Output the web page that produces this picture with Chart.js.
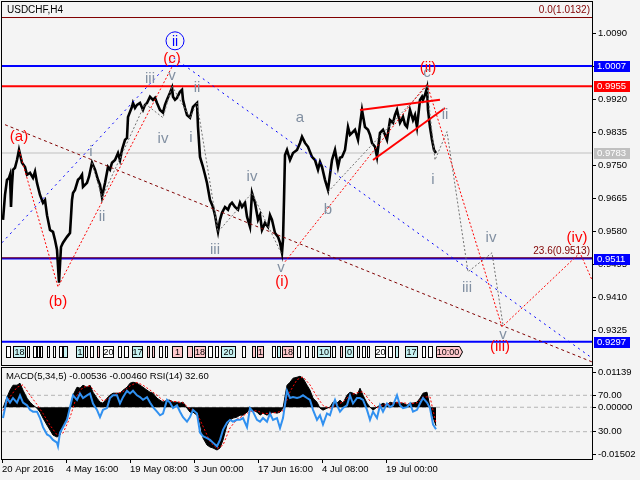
<!DOCTYPE html>
<html>
<head>
<meta charset="utf-8">
<script src="https://cdn.jsdelivr.net/npm/chart.js@4.4.1/dist/chart.umd.min.js"></script>
<style>
html, body { margin: 0; padding: 0; background: #f4f4f4; }
#wrap { position: relative; width: 640px; height: 480px; overflow: hidden; background: #f4f4f4; }
canvas { position: absolute; left: 0; }
#main { top: 0; }
#ind { top: 366px; }
</style>
</head>
<body>
<div id="wrap">
  <canvas id="main" width="640" height="366" style="width:640px;height:366px"></canvas>
  <canvas id="ind" width="640" height="114" style="width:640px;height:114px"></canvas>
</div>
<script>
// USDCHF H4, one bar index per H4 candle
const priceBars = [
  1, 3, 5, 7, 8, 9, 10, 11, 13, 15,
  17, 20, 23, 25, 28, 31, 33, 35, 38, 41,
  43, 45, 48, 51, 53, 55, 57, 59, 61, 65,
  68, 70, 71, 73, 76, 78, 80, 81, 85, 87,
  90, 93, 96, 98, 100, 103, 106, 108, 110, 113,
  116, 118, 120, 123, 125, 126, 128, 130, 131, 133,
  135, 138, 141, 143, 145, 148, 151, 153, 155, 158,
  161, 163, 165, 168, 170, 171, 173, 175, 178, 180,
  181, 183, 185, 188, 191, 195, 196, 198, 201, 203,
  205, 208, 211, 213, 215, 216, 218, 220, 223, 226,
  228, 230, 233, 236, 238, 240, 243, 245, 248, 250,
  253, 256, 258, 260, 263, 266, 268, 270, 273, 276,
  278, 280, 281, 282, 283, 285, 288, 291, 295, 298,
  300, 303, 306, 308, 310, 313, 316, 318, 320, 323,
  326, 328, 330, 333, 336, 338, 340, 343, 346, 348,
  350, 353, 356, 358, 360, 363, 366, 368, 370, 373,
  375, 378, 381, 383, 385, 388, 391, 393, 395, 398,
  401, 403, 405, 408, 411, 413, 415, 418, 420, 421,
  423, 425, 426, 428, 430, 432, 434
];
const priceClose = [
  0.9611, 0.9675, 0.9714, 0.9719, 0.9727, 0.9644, 0.9701, 0.9740, 0.9745, 0.9765,
  0.9791, 0.9758, 0.9747, 0.9727, 0.9732, 0.9719, 0.9735, 0.9706, 0.9675, 0.9655,
  0.9662, 0.9623, 0.9585, 0.9580, 0.9559, 0.9534, 0.9449, 0.9541, 0.9552, 0.9567,
  0.9577, 0.9662, 0.9680, 0.9688, 0.9714, 0.9719, 0.9727, 0.9696, 0.9706, 0.9722,
  0.9758, 0.9740, 0.9714, 0.9701, 0.9670, 0.9706, 0.9747, 0.9740, 0.9758, 0.9765,
  0.9783, 0.9765, 0.9791, 0.9817, 0.9822, 0.9876, 0.9889, 0.9902, 0.9912, 0.9899,
  0.9907, 0.9912, 0.9894, 0.9907, 0.9912, 0.9928, 0.9920, 0.9925, 0.9912, 0.9894,
  0.9887, 0.9907, 0.9920, 0.9938, 0.9951, 0.9928, 0.9920, 0.9925, 0.9941, 0.9946,
  0.9920, 0.9899, 0.9881, 0.9874, 0.9902, 0.9912, 0.9850, 0.9773, 0.9747, 0.9727,
  0.9706, 0.9662, 0.9644, 0.9623, 0.9593, 0.9580, 0.9611, 0.9629, 0.9644, 0.9637,
  0.9650, 0.9655, 0.9644, 0.9637, 0.9655, 0.9644, 0.9655, 0.9619, 0.9593, 0.9680,
  0.9655, 0.9611, 0.9623, 0.9585, 0.9603, 0.9593, 0.9623, 0.9611, 0.9577, 0.9567,
  0.9552, 0.9526, 0.9559, 0.9662, 0.9778, 0.9791, 0.9765, 0.9783, 0.9791, 0.9809,
  0.9825, 0.9809, 0.9799, 0.9786, 0.9773, 0.9765, 0.9740, 0.9760, 0.9747, 0.9714,
  0.9688, 0.9727, 0.9765, 0.9791, 0.9747, 0.9771, 0.9773, 0.9791, 0.9850, 0.9830,
  0.9835, 0.9843, 0.9817, 0.9856, 0.9894, 0.9850, 0.9843, 0.9830, 0.9809, 0.9799,
  0.9773, 0.9835, 0.9843, 0.9830, 0.9817, 0.9868, 0.9861, 0.9881, 0.9894, 0.9861,
  0.9876, 0.9856, 0.9850, 0.9894, 0.9868, 0.9881, 0.9850, 0.9920, 0.9928, 0.9920,
  0.9933, 0.9951, 0.9894, 0.9850, 0.9817, 0.9791, 0.9783
];

const macdBars = [
  1, 5, 8, 11, 15, 18, 21, 25, 28, 31,
  35, 38, 41, 45, 48, 51, 55, 58, 61, 65,
  68, 71, 75, 78, 81, 85, 88, 91, 95, 98,
  101, 105, 108, 111, 115, 118, 121, 125, 128, 131,
  135, 138, 141, 145, 148, 151, 155, 158, 161, 165,
  168, 171, 175, 178, 181, 185, 188, 191, 195, 198,
  201, 205, 208, 211, 215, 218, 221, 225, 228, 231,
  235, 238, 241, 245, 248, 251, 255, 258, 261, 265,
  268, 271, 275, 278, 281, 285, 288, 291, 295, 298,
  301, 305, 308, 311, 315, 318, 321, 325, 328, 331,
  335, 338, 341, 345, 348, 351, 355, 358, 361, 365,
  368, 371, 375, 378, 381, 385, 388, 391, 395, 398,
  401, 405, 408, 411, 415, 418, 421, 425, 428, 431,
  434
];
const macdMain = [
  -0.00026, 0.00292, 0.00495, 0.00639, 0.00639, 0.00697, 0.00495, 0.00263, 0.00148, 0.00061,
  -0.00026, -0.00142, -0.00315, -0.00518, -0.00662, -0.00807, -0.00865, -0.00807, -0.00518, -0.00286,
  -0.00026, 0.00350, 0.00581, 0.00553, 0.00639, 0.00581, 0.00639, 0.00437, 0.00263, 0.00148,
  0.00119, 0.00263, 0.00350, 0.00408, 0.00408, 0.00408, 0.00495, 0.00581, 0.00697, 0.00726,
  0.00697, 0.00639, 0.00581, 0.00495, 0.00437, 0.00408, 0.00263, 0.00205, 0.00148, 0.00205,
  0.00205, 0.00148, 0.00148, 0.00119, 0.00148, -0.00026, -0.00142, -0.00142, -0.00229, -0.00460,
  -0.00894, -0.01096, -0.01154, -0.01183, -0.01241, -0.01183, -0.00952, -0.00518, -0.00373, -0.00315,
  -0.00286, -0.00229, -0.00229, -0.00142, -0.00026, -0.00084, -0.00142, -0.00229, -0.00171, -0.00229,
  -0.00171, -0.00142, -0.00171, -0.00142, -0.00026, 0.00639, 0.00726, 0.00842, 0.00871, 0.00900,
  0.00842, 0.00639, 0.00495, 0.00263, 0.00148, -0.00026, -0.00084, -0.00026, 0.00003, 0.00148,
  0.00119, 0.00205, 0.00119, 0.00350, 0.00437, 0.00408, 0.00350, 0.00553, 0.00350, 0.00119,
  0.00003, -0.00084, 0.00003, 0.00061, 0.00119, 0.00061, 0.00148, 0.00119, 0.00148, 0.00119,
  0.00119, 0.00061, 0.00119, 0.00119, 0.00148, 0.00263, 0.00408, 0.00437, 0.00003, -0.00286,
  -0.00536
];

const signalBars = [
  1, 8, 15, 21, 28, 35, 41, 48, 55, 61,
  68, 75, 81, 88, 95, 101, 108, 115, 121, 128,
  135, 141, 148, 155, 161, 168, 175, 181, 188, 195,
  201, 208, 215, 221, 228, 235, 241, 248, 255, 261,
  268, 275, 281, 288, 295, 301, 308, 315, 321, 328,
  335, 341, 348, 355, 361, 368, 375, 381, 388, 395,
  401, 408, 415, 421, 428, 434
];
const macdSignal = [
  -0.0010, 0.0030, 0.0058, 0.0065, 0.0035, 0.0008, -0.0018, -0.0052, -0.0080, -0.0075,
  -0.0030, 0.0035, 0.0058, 0.0062, 0.0040, 0.0018, 0.0028, 0.0040, 0.0045, 0.0062,
  0.0072, 0.0064, 0.0050, 0.0035, 0.0020, 0.0018, 0.0016, 0.0013, -0.0005, -0.0018,
  -0.0055, -0.0100, -0.0120, -0.0110, -0.0060, -0.0035, -0.0025, -0.0012, -0.0010, -0.0018,
  -0.0018, -0.0015, -0.0010, 0.0045, 0.0080, 0.0088, 0.0065, 0.0030, 0.0005, -0.0003,
  0.0008, 0.0015, 0.0035, 0.0042, 0.0045, 0.0018, -0.0002, 0.0006, 0.0010, 0.0013,
  0.0013, 0.0010, 0.0013, 0.0030, 0.0030, -0.0046
];

const rsiBars = [
  1, 5, 8, 11, 15, 18, 21, 25, 28, 31,
  35, 38, 41, 45, 48, 51, 55, 56, 58, 61,
  65, 68, 71, 75, 78, 81, 85, 88, 91, 95,
  98, 101, 105, 108, 111, 115, 118, 121, 125, 128,
  131, 135, 138, 141, 145, 148, 151, 155, 158, 161,
  165, 168, 171, 175, 178, 181, 185, 188, 191, 195,
  198, 201, 205, 208, 211, 215, 218, 221, 225, 228,
  231, 235, 238, 241, 245, 248, 251, 255, 258, 261,
  265, 268, 271, 275, 278, 281, 285, 288, 291, 295,
  298, 301, 305, 308, 311, 315, 318, 321, 325, 328,
  331, 333, 335, 338, 341, 345, 348, 351, 355, 358,
  361, 365, 368, 371, 375, 378, 381, 385, 388, 391,
  395, 398, 401, 405, 408, 411, 415, 418, 421, 425,
  428, 431, 434
];
const rsiValues = [
  45, 67, 62, 67, 62, 70, 62, 59, 54, 52,
  52, 45, 35, 27, 25, 21, 18, 14, 29, 35,
  43, 57, 70, 65, 72, 67, 70, 72, 61, 54,
  46, 54, 56, 67, 70, 70, 61, 68, 75, 72,
  75, 70, 68, 65, 68, 62, 57, 52, 48, 50,
  65, 62, 56, 59, 52, 46, 41, 46, 54, 50,
  29, 25, 23, 21, 18, 14, 21, 32, 40, 43,
  41, 43, 43, 45, 35, 56, 52, 43, 41, 45,
  41, 50, 43, 45, 34, 45, 75, 67, 68, 67,
  68, 70, 67, 65, 54, 43, 48, 38, 50, 48,
  59, 65, 59, 52, 56, 59, 70, 61, 67, 67,
  65, 54, 43, 52, 45, 59, 52, 61, 57, 59,
  70, 59, 56, 57, 61, 52, 54, 61, 67, 62,
  56, 38, 32.6
];

// axis ticks
const priceTicks = [1.0090, 1.0005, 0.9920, 0.9835, 0.9750, 0.9665, 0.9580, 0.9495, 0.9410, 0.9325];
const dateTickBars = [0, 64, 128, 192, 256, 320, 384];
const dateLabels = ['20 Apr 2016', '4 May 16:00', '19 May 08:00', '3 Jun 00:00', '17 Jun 16:00', '4 Jul 08:00', '19 Jul 00:00'];

// horizontal levels
const blueLevels = [1.0007, 0.9511, 0.9297];
const redLevels = [0.9955];
const lastPrice = 0.9783;
const fibLevels = [[1.0132, '0.0(1.0132)'], [0.9513, '23.6(0.9513)']];

// analysis lines: [bar, price] vertices
const blueChannel = [[0, 0.9552], [172, 1.0028], [590, 0.9255]];
const maroonTrend = [[3, 0.9856], [590, 0.9245]];
const redWaves = [
  [[17, 0.9791], [56, 0.9438], [171, 1.0010]],
  [[283, 0.9503], [425, 0.9961], [500, 0.9335], [578, 0.9526], [590, 0.9456]]
];
const greyWaves = [
  [[90, 0.9758], [100, 0.9668], [143, 0.9910], [161, 0.9874], [170, 0.9956]],
  [[170, 0.9956], [188, 0.9874], [195, 0.9912], [216, 0.9580], [250, 0.9680], [280, 0.9521]],
  [[326, 0.9683], [425, 0.9956]],
  [[425, 0.9956], [433, 0.9765], [445, 0.9838], [466, 0.9477], [490, 0.9526], [501, 0.9340]]
];
const wedgeLines = [
  [[358, 0.9894], [438, 0.9920]],
  [[371, 0.9765], [443, 0.9899]]
];

// wave labels: [bar, price, text, kind]
const waveLabels = [
  [17, 0.9825, '(a)', 'red'], [56, 0.9400, '(b)', 'red'], [170, 1.0026, '(c)', 'red'],
  [280, 0.9451, '(i)', 'red'], [426, 1.0002, '(ii)', 'red'], [498, 0.9284, '(iii)', 'red'],
  [575, 0.9565, '(iv)', 'red'],
  [89, 0.9786, 'i', 'grey'], [100, 0.9619, 'ii', 'grey'], [148, 0.9974, 'iii', 'grey'],
  [161, 0.9819, 'iv', 'grey'], [170, 0.9982, 'v', 'grey'],
  [189, 0.9822, 'i', 'grey'], [195, 0.9951, 'ii', 'grey'], [213, 0.9534, 'iii', 'grey'],
  [250, 0.9722, 'iv', 'grey'], [279, 0.9487, 'v', 'grey'],
  [298, 0.9874, 'a', 'grey'], [326, 0.9637, 'b', 'grey'], [425, 0.9990, 'c', 'grey'],
  [431, 0.9714, 'i', 'grey'], [443, 0.9881, 'ii', 'grey'], [465, 0.9436, 'iii', 'grey'],
  [489, 0.9565, 'iv', 'grey'], [501, 0.9315, 'v', 'grey']
];
const circledLabel = [173, 1.0072, 'ii'];

// session strip along the bottom of the price panel: [fromBar, toBar, text, fill]
const sessionTags = [
  [4, 8, '', '#fff'], [11, 23, '18', '#c6f2f2'], [25, 27, '', '#fff'], [31, 34, '', '#fff'],
  [35, 37, '', '#fff'], [38, 40, '', '#fff'], [45, 47, '', '#fff'], [51, 53, '', '#fff'],
  [57, 60, '', '#fff'], [61, 65, '', '#c6f2f2'], [74, 81, '1', '#c6f2f2'], [83, 85, '', '#fff'],
  [88, 91, '', '#fff'], [95, 97, '', '#ffc8cc'], [101, 111, '20', '#fff'], [116, 119, '', '#fff'],
  [122, 126, '', '#fff'], [130, 140, '17', '#c6f2f2'], [145, 147, '', '#ffc8cc'], [150, 152, '', '#ffc8cc'],
  [157, 160, '', '#fff'], [163, 165, '', '#fff'], [170, 180, '1', '#ffc8cc'], [185, 190, '', '#ffc8cc'],
  [192, 203, '18', '#ffc8cc'], [206, 210, '', '#fff'], [213, 216, '', '#fff'], [219, 233, '20', '#c6f2f2'],
  [240, 243, '', '#fff'], [250, 253, '', '#ffc8cc'], [255, 261, '1', '#ffc8cc'], [270, 273, '', '#fff'],
  [275, 278, '', '#c6f2f2'], [280, 291, '18', '#ffc8cc'], [295, 298, '', '#fff'], [303, 306, '', '#fff'],
  [310, 312, '', '#fff'], [315, 328, '10', '#c6f2f2'], [330, 333, '', '#fff'], [338, 340, '', '#ffc8cc'],
  [343, 351, '0', '#c6f2f2'], [355, 357, '', '#fff'], [360, 363, '', '#fff'], [365, 367, '', '#fff'],
  [373, 383, '20', '#fff'], [386, 390, '', '#fff'], [393, 396, '', '#c6f2f2'], [403, 415, '17', '#c6f2f2'],
  [420, 423, '', '#fff'], [426, 430, '', '#fff']
];
const lastTag = [434, 460, '10:00'];

const macdMin = -0.01502, macdMax = 0.01139;
const macdHeader = 'MACD(5,34,5) -0.00536 -0.00460 RSI(14) 32.60';

const FONT = '"Liberation Sans", Arial, sans-serif';
const pts = (xs, ys) => xs.map((x, k) => ({ x: x, y: ys[k] }));
const seg = arr => arr.map(p => ({ x: p[0], y: p[1] }));
const hline = (p, color, width, dash) => ({
  data: [{ x: 0, y: p }, { x: 590, y: p }], borderColor: color, borderWidth: width,
  borderDash: dash || [], order: 6
});

const mainSets = [];
fibLevels.forEach(f => mainSets.push(hline(f[0], '#800000', 1)));
mainSets.push(hline(lastPrice, '#c0c0c0', 1));
blueLevels.forEach(p => mainSets.push(hline(p, '#0000ff', 2)));
redLevels.forEach(p => mainSets.push(hline(p, '#ff0000', 2)));
mainSets.push({ data: pts(priceBars, priceClose), borderColor: '#000', borderWidth: 2.6, order: 4 });
mainSets.push({ data: seg(blueChannel), borderColor: '#0000ff', borderWidth: 1, borderDash: [2, 4], order: 3 });
mainSets.push({ data: seg(maroonTrend), borderColor: '#800000', borderWidth: 1, borderDash: [3, 3], order: 3 });
greyWaves.forEach(w => mainSets.push({ data: seg(w), borderColor: '#707070', borderWidth: 1, borderDash: [2, 2], order: 3 }));
redWaves.forEach(w => mainSets.push({ data: seg(w), borderColor: '#ff0000', borderWidth: 1, borderDash: [2, 2], order: 2 }));
wedgeLines.forEach(w => mainSets.push({ data: seg(w), borderColor: '#ff0000', borderWidth: 2, order: 1 }));

function noPad(s) { s.paddingTop = 0; s.paddingBottom = 0; s.paddingLeft = 0; s.paddingRight = 0; }

const frame = {
  id: 'frame',
  afterDraw(chart) {
    const a = chart.chartArea, ctx = chart.ctx;
    ctx.save();
    ctx.strokeStyle = '#000';
    ctx.lineWidth = 1;
    ctx.strokeRect(a.left - 0.5, a.top - 0.5, a.right - a.left + 1, a.bottom - a.top + 1);
    ctx.restore();
  }
};

const mainOverlay = {
  id: 'mainOverlay',
  afterDatasetsDraw(chart) {
    const { ctx, chartArea: a, scales: { x, y } } = chart;
    ctx.save();
    ctx.textAlign = 'center';
    ctx.textBaseline = 'middle';
    waveLabels.forEach(([b, p, t, kind]) => {
      ctx.font = '15px ' + FONT;
      ctx.fillStyle = kind === 'red' ? '#ff0000' : '#8290a2';
      ctx.fillText(t, x.getPixelForValue(b), y.getPixelForValue(p));
    });
    const cx = x.getPixelForValue(circledLabel[0]), cy = y.getPixelForValue(circledLabel[1]);
    ctx.strokeStyle = '#0000ff';
    ctx.lineWidth = 1;
    ctx.beginPath();
    ctx.arc(cx, cy, 9, 0, Math.PI * 2);
    ctx.stroke();
    ctx.fillStyle = '#0000ff';
    ctx.font = '14px ' + FONT;
    ctx.fillText(circledLabel[2], cx, cy + 1);

    ctx.font = '10px ' + FONT;
    ctx.fillStyle = '#800000';
    ctx.textAlign = 'right';
    ctx.textBaseline = 'bottom';
    fibLevels.forEach(f => ctx.fillText(f[1], a.right - 2, y.getPixelForValue(f[0]) - 2));

    ctx.textAlign = 'left';
    ctx.textBaseline = 'middle';
    ctx.fillStyle = '#000';
    ctx.font = '10px ' + FONT;
    ctx.fillText('USDCHF,H4', a.left + 5, a.top + 8);

    // session strip
    const top = a.bottom - 19, h = 11;
    ctx.font = '9px ' + FONT;
    ctx.textAlign = 'center';
    sessionTags.forEach(([b0, b1, t, fill]) => {
      const x0 = Math.round(x.getPixelForValue(b0)) + 0.5, x1 = Math.round(x.getPixelForValue(b1)) + 0.5;
      ctx.fillStyle = fill;
      ctx.fillRect(x0, top, x1 - x0, h);
      ctx.strokeStyle = '#000';
      ctx.strokeRect(x0, top + 0.5, x1 - x0, h);
      if (t) { ctx.fillStyle = '#000'; ctx.fillText(t, (x0 + x1) / 2, top + h / 2 + 1); }
    });
    const lx0 = Math.round(x.getPixelForValue(lastTag[0])) + 0.5, lx1 = Math.round(x.getPixelForValue(lastTag[1])) + 0.5;
    ctx.beginPath();
    ctx.moveTo(lx0, top + 0.5);
    ctx.lineTo(lx1 - 3, top + 0.5);
    ctx.lineTo(lx1, top + h / 2 + 0.5);
    ctx.lineTo(lx1 - 3, top + h + 0.5);
    ctx.lineTo(lx0, top + h + 0.5);
    ctx.closePath();
    ctx.fillStyle = '#ffc8cc';
    ctx.fill();
    ctx.strokeStyle = '#000';
    ctx.stroke();
    ctx.fillStyle = '#000';
    ctx.fillText(lastTag[2], (lx0 + lx1 - 3) / 2, top + h / 2 + 1);
    ctx.restore();
  },
  afterDraw(chart) {
    const { ctx, chartArea: a, scales: { y } } = chart;
    const tags = blueLevels.map(p => [p, '#0000ff']).concat(redLevels.map(p => [p, '#ff0000']), [[lastPrice, '#c0c0c0']]);
    ctx.save();
    ctx.font = '9.5px ' + FONT;
    ctx.textAlign = 'left';
    ctx.textBaseline = 'middle';
    tags.forEach(([p, c]) => {
      const py = Math.round(y.getPixelForValue(p));
      ctx.fillStyle = c;
      ctx.fillRect(a.right + 2, py - 5, 36, 11);
      ctx.fillStyle = '#fff';
      ctx.fillText(p.toFixed(4), a.right + 5, py + 0.5);
    });
    ctx.restore();
  }
};

const mainChart = new Chart(document.getElementById('main'), {
  type: 'line',
  data: { datasets: mainSets },
  options: {
    responsive: false,
    animation: false,
    devicePixelRatio: 1,
    layout: { padding: { left: 2, top: 2, right: 0, bottom: 1 } },
    plugins: { legend: { display: false }, tooltip: { enabled: false } },
    elements: { point: { radius: 0 }, line: { tension: 0 } },
    scales: {
      x: { type: 'linear', min: 0, max: 590, display: false },
      y: {
        position: 'right', min: 0.9237, max: 1.0172,
        afterFit: s => { s.width = 48; noPad(s); },
        afterBuildTicks: s => { s.ticks = priceTicks.map(v => ({ value: v })); },
        ticks: { callback: v => v.toFixed(4), color: '#000', padding: 2, font: { family: FONT, size: 9.5 } },
        grid: { drawOnChartArea: false, tickLength: 4, color: '#000' },
        border: { color: '#000' }
      }
    }
  },
  plugins: [mainOverlay, frame]
});

// indicator window: MACD histogram + signal and RSI on one panel
const rsiOnMacd = v => macdMin + v / 100 * (macdMax - macdMin);
const inset = (macdMax - macdMin) * 0.05;
const indTicks = [
  [macdMax - inset, macdMax.toFixed(5)],
  [rsiOnMacd(70), '70.00'],
  [0, '0.00000'],
  [rsiOnMacd(30), '30.00'],
  [macdMin + inset, macdMin.toFixed(5)]
];

const indOverlay = {
  id: 'indOverlay',
  afterDraw(chart) {
    const { ctx, chartArea: a } = chart;
    ctx.save();
    ctx.font = '9.5px ' + FONT;
    ctx.fillStyle = '#000';
    ctx.textAlign = 'left';
    ctx.textBaseline = 'middle';
    ctx.fillText(macdHeader, a.left + 4, a.top + 8);
    ctx.restore();
  }
};

const dashed = (axis, v) => ({
  data: [{ x: 0, y: v }, { x: 590, y: v }], yAxisID: axis,
  borderColor: '#b4b4b4', borderWidth: 1, borderDash: [4, 3], order: 5
});

new Chart(document.getElementById('ind'), {
  type: 'line',
  data: {
    datasets: [
      dashed('rsi', 70), dashed('macd', 0), dashed('rsi', 30),
      { data: pts(macdBars, macdMain), yAxisID: 'macd', borderColor: '#000', backgroundColor: '#000', borderWidth: 1, fill: 'origin', order: 4 },
      { data: pts(signalBars, macdSignal), yAxisID: 'macd', borderColor: '#ff0000', borderWidth: 1, borderDash: [2, 2], order: 3 },
      { data: pts(rsiBars, rsiValues), yAxisID: 'rsi', borderColor: '#3090f0', borderWidth: 2, order: 1 }
    ]
  },
  options: {
    responsive: false,
    animation: false,
    devicePixelRatio: 1,
    layout: { padding: { left: 2, top: 2, right: 0, bottom: 0 } },
    plugins: { legend: { display: false }, tooltip: { enabled: false } },
    elements: { point: { radius: 0 }, line: { tension: 0 } },
    scales: {
      x: {
        type: 'linear', min: 0, max: 590,
        afterFit: s => { s.height = 21; noPad(s); },
        afterBuildTicks: s => { s.ticks = dateTickBars.map(v => ({ value: v })); },
        ticks: { callback: (v, i) => dateLabels[i], align: 'start', autoSkip: false, maxRotation: 0, color: '#000', padding: 1, font: { family: FONT, size: 9.5 } },
        grid: { drawOnChartArea: false, tickLength: 4, color: '#000' },
        border: { color: '#000' }
      },
      macd: {
        axis: 'y', position: 'right', min: macdMin, max: macdMax,
        afterFit: s => { s.width = 48; noPad(s); },
        afterBuildTicks: s => { s.ticks = indTicks.map(t => ({ value: t[0] })); },
        ticks: { callback: (v, i) => indTicks[i][1], color: '#000', padding: 2, font: { family: FONT, size: 9.5 } },
        grid: { drawOnChartArea: false, tickLength: 4, color: '#000' },
        border: { color: '#000' }
      },
      rsi: { axis: 'y', type: 'linear', position: 'left', display: false, min: 0, max: 100 }
    }
  },
  plugins: [indOverlay, frame]
});
</script>
</body>
</html>
